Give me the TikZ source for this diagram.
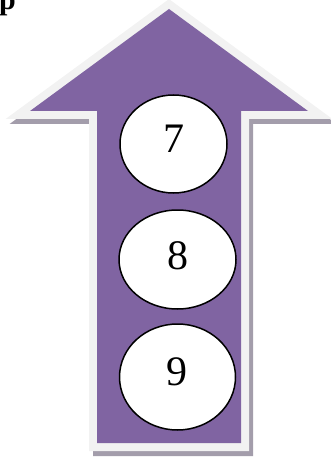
\documentclass[tikz,border=0pt]{standalone}
\usepackage{fontspec}
\setmainfont{Liberation Serif}
\definecolor{arrowpurple}{HTML}{8064A2}
\definecolor{rimgray}{HTML}{F2F2F2}
\definecolor{shadowgray}{HTML}{A39DAB}
\tikzset{
  numoval/.style={draw=black, line width=1.5pt, fill=white},
  numtext/.style={font=\fontsize{42}{42}\selectfont, anchor=base, inner sep=0pt},
}
\begin{document}
\begin{tikzpicture}[x=1pt,y=-1pt]
\useasboundingbox (0,0) rectangle (331,457);
\def\arrowpath{(169,9) -- (308,111) -- (241,111) -- (241,443) -- (97,443) -- (97,111) -- (30,111) -- cycle}
% shadow
\begin{scope}[shift={(4,5)}]
  \draw[shadowgray, line width=16pt, line join=miter] \arrowpath;
\end{scope}
% rim
\draw[rimgray, line width=16pt, line join=miter] \arrowpath;
% body
\fill[arrowpurple] \arrowpath;
% ovals
\draw[numoval] (173.5,144) ellipse [x radius=53.5, y radius=49];
\draw[numoval] (177.5,259.5) ellipse [x radius=58.5, y radius=49.5];
\draw[numoval] (177.5,377) ellipse [x radius=58, y radius=53];
\node[numtext] (n7) at (173.5,153) {7};
\node[numtext] (n8) at (178,269) {8};
\node[numtext] (n9) at (177,385) {9};
\node[font=\bfseries\fontsize{30}{30}\selectfont, anchor=base west, inner sep=0pt] (p) at (-1,9.5) {p};
\end{tikzpicture}
\end{document}
